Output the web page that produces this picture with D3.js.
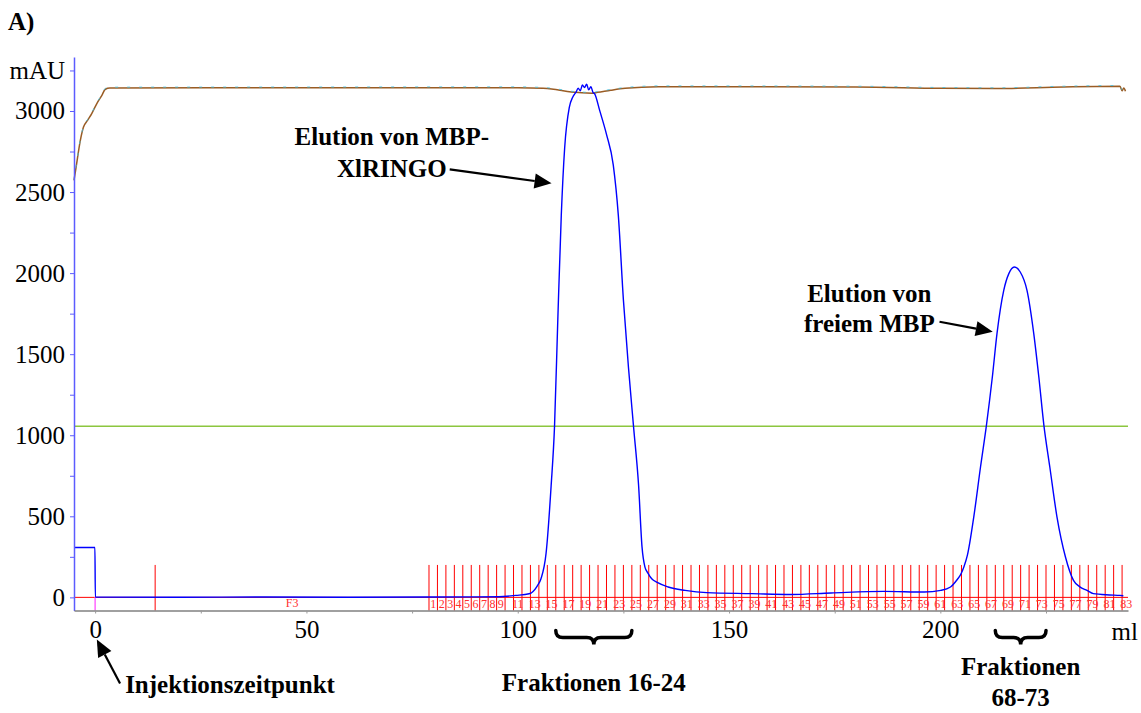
<!DOCTYPE html>
<html>
<head>
<meta charset="utf-8">
<script src="https://cdn.jsdelivr.net/npm/d3@7"></script>
<style>
  body { margin: 0; background: #fff; }
  svg { display: block; }
</style>
</head>
<body>
<svg id="chart" width="1141" height="713"></svg>
<script>
const SERIF = '"Liberation Serif", "Times New Roman", Times, serif';

// UV 280 nm trace, [ml, mAU]
const uvTrace = [
  [-5, 308], [-0.05, 308], [0.05, 2], [20, 1], [40, 2], [60, 1], [80, 2], [90, 3],
  [95.5, 4], [99.5, 12], [102.7, 22], [104.6, 70], [105.5, 115], [106.7, 271],
  [107.9, 688], [108.7, 1053], [109.5, 1730], [110.3, 2356], [111.1, 2772],
  [112.2, 3023], [113.0, 3085], [113.8, 3117], [114.3, 3140], [114.8, 3125],
  [115.3, 3160], [115.8, 3145], [116.3, 3165], [116.8, 3130], [117.3, 3150],
  [117.8, 3115], [118.2, 3106], [119.4, 3002], [121.0, 2856], [122.6, 2668],
  [123.8, 2356], [125.0, 1835], [126.2, 1418], [127.4, 1053], [128.6, 688],
  [129.4, 313], [130.1, 187], [130.8, 150], [131.7, 115], [133.0, 92],
  [135.6, 64], [139.6, 43], [144.7, 29], [155.3, 23], [164.7, 18], [174.1, 27],
  [186.7, 37], [196.2, 33], [200.1, 43], [202.4, 64], [204.0, 110], [204.8, 140],
  [205.6, 190], [206.4, 260], [207.9, 495], [209.5, 804], [210.9, 1061],
  [212.3, 1359], [213.4, 1627], [215.0, 1894], [216.2, 1997], [217.5, 2038],
  [218.9, 2007], [220.5, 1894], [222.1, 1627], [223.3, 1359], [224.5, 1061],
  [225.9, 804], [227.6, 495], [229.6, 249], [231.5, 105], [233.0, 65],
  [234.7, 43], [236.2, 23], [240.0, 15], [242.5, 12], [243.3, 10]
];

// second (saturated) UV channel, [ml, mAU]
const uvHighTrace = [
  [-5, 2572], [-4.5, 2654], [-3.5, 2819], [-2.75, 2901], [-1.8, 2942],
  [-0.8, 2984], [0.4, 3046], [1.6, 3097], [2.4, 3134], [3.5, 3142],
  [50, 3143], [100, 3144], [106, 3140], [108, 3136], [112.7, 3117],
  [117.5, 3110], [118.9, 3115], [122, 3128], [125.4, 3140], [133.3, 3150],
  [180, 3148], [200, 3140], [213.4, 3138], [229.2, 3148], [242.5, 3152],
  [243, 3125], [243.4, 3142], [243.8, 3122]
];

const condLevel = 1055;

const yTicks = [0, 250, 500, 750, 1000, 1250, 1500, 1750, 2000, 2250, 2500, 2750, 3000, 3250];
const yLabels = ["0", "", "500", "", "1000", "", "1500", "", "2000", "", "2500", "", "3000", "mAU"];
const xTicks = [0, 25, 50, 75, 100, 125, 150, 175, 200, 225];
const xLabels = ["0", "", "50", "", "100", "", "150", "", "200", ""];

// fraction collector
const fractionStart = 79;
const fractionWidth = 2;
const fractionCount = 83;
const wasteMark = 14.2;
const wasteLabel = "F3";
const injectionMl = 0;

const svg = d3.select('#chart').attr('font-family', SERIF);
svg.append('rect').attr('width', 1141).attr('height', 713).attr('fill', '#fff');

const x = d3.scaleLinear().domain([-5, 244.4]).range([74, 1128]);
const y = d3.scaleLinear().domain([-81, 3333]).range([610.5, 57]);

// green level line
svg.append('line')
  .attr('x1', x.range()[0]).attr('x2', x.range()[1])
  .attr('y1', y(condLevel)).attr('y2', y(condLevel))
  .attr('stroke', '#8cc63f').attr('stroke-width', 1.5);

// fraction marks
const fracs = d3.range(fractionCount).map(i => ({ n: i + 1, ml: fractionStart + i * fractionWidth }));
const fg = svg.append('g').attr('class', 'fractions');

fg.append('line')
  .attr('x1', x.range()[0]).attr('x2', x.range()[1])
  .attr('y1', y(0)).attr('y2', y(0))
  .attr('stroke', '#ff0000').attr('stroke-width', 1);

fg.selectAll('.fl')
  .data([{ ml: wasteMark }].concat(fracs))
  .enter().append('line')
  .attr('x1', d => x(d.ml)).attr('x2', d => x(d.ml))
  .attr('y1', y(200)).attr('y2', y.range()[0])
  .attr('stroke', '#ff0000').attr('stroke-width', 1);

fg.selectAll('.flab')
  .data(fracs.filter(d => d.n <= 9 || d.n % 2 === 1))
  .enter().append('text')
  .attr('x', d => x(d.ml + fractionWidth / 2))
  .attr('y', y(0) + 11)
  .attr('text-anchor', 'middle')
  .attr('font-family', SERIF)
  .attr('font-size', 12)
  .attr('fill', '#ff3030')
  .text(d => d.n);

fg.append('text')
  .attr('x', x((wasteMark + fractionStart) / 2))
  .attr('y', y(0) + 10)
  .attr('text-anchor', 'middle')
  .attr('font-family', SERIF)
  .attr('font-size', 12)
  .attr('fill', '#ff3030')
  .text(wasteLabel);

// injection marker
svg.append('line')
  .attr('x1', x(injectionMl)).attr('x2', x(injectionMl))
  .attr('y1', y(0)).attr('y2', y.range()[0])
  .attr('stroke', '#ff66ff').attr('stroke-width', 1.5);

// traces
const line = d3.line().x(d => x(d[0])).y(d => y(d[1])).curve(d3.curveMonotoneX);

svg.append('path').datum(uvHighTrace)
  .attr('d', line).attr('fill', 'none')
  .attr('stroke', '#9a5c24').attr('stroke-width', 1.5);
svg.append('path').datum(uvHighTrace)
  .attr('d', line).attr('fill', 'none')
  .attr('stroke', '#3cc0e4').attr('stroke-width', 0.8)
  .attr('stroke-dasharray', '3 9')
  .attr('transform', 'translate(0,-0.8)');

svg.append('path').datum(uvTrace)
  .attr('d', line).attr('fill', 'none')
  .attr('stroke', '#0000ff').attr('stroke-width', 1.4);

// axes
const yAxis = svg.append('g')
  .attr('transform', `translate(${x.range()[0]},0)`)
  .call(d3.axisLeft(y).tickValues(yTicks).tickSize(4).tickSizeOuter(0).tickPadding(5)
    .tickFormat((d, i) => yLabels[i]));
yAxis.attr('font-family', SERIF);
yAxis.select('.domain').attr('stroke', '#5c5cff').attr('stroke-width', 1.5);
yAxis.selectAll('.tick line').attr('stroke', '#5c5cff');
yAxis.selectAll('.tick text').attr('font-size', 25).attr('font-family', SERIF).attr('fill', '#000');

const xAxis = svg.append('g')
  .attr('transform', `translate(0,${y.range()[0]})`)
  .call(d3.axisBottom(x).tickValues(xTicks).tickSize(3).tickSizeOuter(0).tickPadding(7)
    .tickFormat((d, i) => xLabels[i]));
xAxis.attr('font-family', SERIF);
xAxis.select('.domain').attr('stroke', '#808080').attr('stroke-width', 1.5);
xAxis.selectAll('.tick line').attr('stroke', '#999');
xAxis.selectAll('.tick text').attr('font-size', 25).attr('font-family', SERIF).attr('fill', '#000');

svg.append('text')
  .attr('x', x.range()[1] + 10).attr('y', y.range()[0] + 29)
  .attr('text-anchor', 'end').attr('font-size', 25).attr('font-family', SERIF).text('ml');

// annotations
function boldText(sel) {
  return sel.attr('font-family', SERIF).attr('font-weight', 'bold').attr('font-size', 25).attr('fill', '#000');
}

boldText(svg.append('text')).attr('x', 8).attr('y', 30).text('A)');

function arrow(x1, y1, x2, y2) {
  const a = Math.atan2(y2 - y1, x2 - x1);
  const L = 17, W = 7.5;
  const bx = x2 - L * Math.cos(a), by = y2 - L * Math.sin(a);
  svg.append('line').attr('x1', x1).attr('y1', y1).attr('x2', bx).attr('y2', by)
    .attr('stroke', '#000').attr('stroke-width', 2.2);
  const px = Math.sin(a) * W, py = -Math.cos(a) * W;
  svg.append('polygon')
    .attr('points', [[x2, y2], [bx + px, by + py], [bx - px, by - py]].map(p => p.join(',')).join(' '))
    .attr('fill', '#000');
}

function brace(ml0, ml1, top) {
  const x0 = x(ml0), x1 = x(ml1), cx = (x0 + x1) / 2;
  const h = 14, m = top + h / 2, r = 7;
  const p = d3.path();
  p.moveTo(x0, top);
  p.quadraticCurveTo(x0, m, x0 + r, m);
  p.lineTo(cx - r, m);
  p.quadraticCurveTo(cx, m, cx, top + h);
  p.quadraticCurveTo(cx, m, cx + r, m);
  p.lineTo(x1 - r, m);
  p.quadraticCurveTo(x1, m, x1, top);
  svg.append('path').attr('d', p.toString()).attr('fill', 'none')
    .attr('stroke', '#000').attr('stroke-width', 3.5).attr('stroke-linecap', 'round');
}

function label(lines, cx, y0, dy, anchor) {
  const t = boldText(svg.append('text')).attr('text-anchor', anchor || 'middle');
  lines.forEach((s, i) => t.append('tspan').attr('x', cx).attr('y', y0 + i * dy).text(s));
}

const axisY = y.range()[0];

// peak 1
label(['Elution von MBP-', 'XlRINGO'], x(70.2), y(2790), 31.7);
arrow(x(83.9), y(2640), x(108.0), y(2554));

// peak 2
label(['Elution von', 'freiem MBP'], x(183.2), y(1822), 30);
arrow(x(199.8), y(1700), x(212.4), y(1638));

// injection
arrow(x(5.9), axisY + 73, x(injectionMl + 0.4), axisY + 29);
label(['Injektionszeitpunkt'], x(7.1), axisY + 82, 0, 'start');

// fraction braces
const f16 = fracs[15].ml, f24 = fracs[23].ml + fractionWidth;
const f68 = fracs[67].ml, f73 = fracs[72].ml + fractionWidth;
brace(f16, f24, axisY + 20);
label(['Fraktionen 16-24'], x((f16 + f24) / 2), axisY + 80, 0);
brace(f68, f73, axisY + 20);
label(['Fraktionen', '68-73'], x((f68 + f73) / 2), axisY + 64, 31);
</script>
</body>
</html>
